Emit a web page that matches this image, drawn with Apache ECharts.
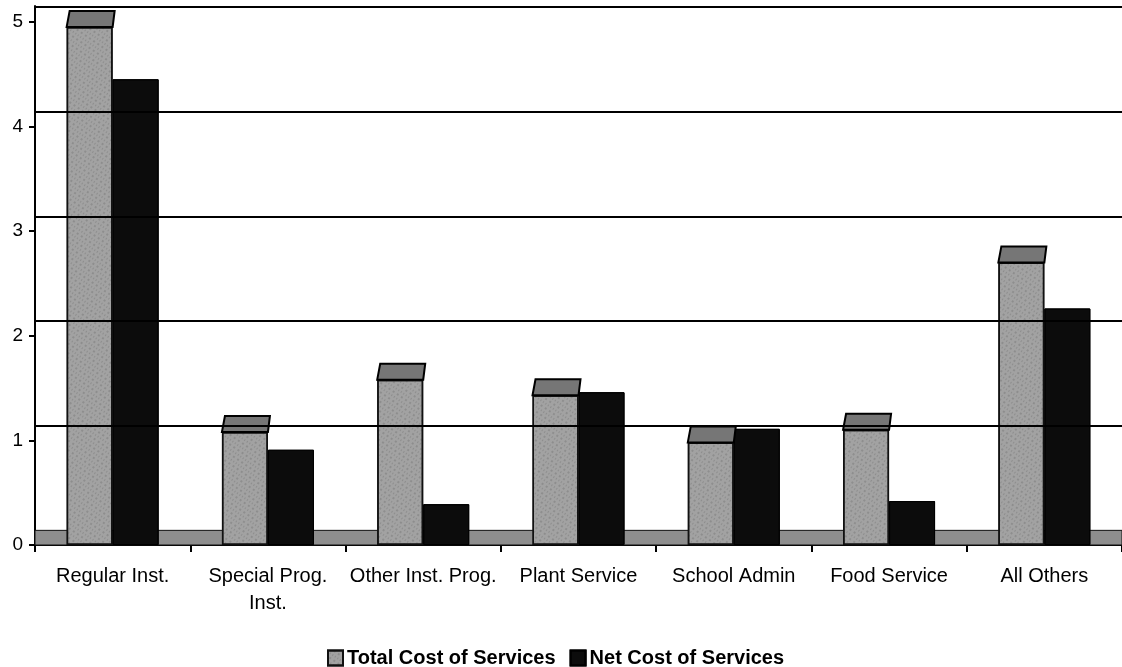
<!DOCTYPE html>
<html><head><meta charset="utf-8">
<script src="https://cdn.jsdelivr.net/npm/echarts@6/dist/echarts.min.js"></script>
<style>html,body{margin:0;padding:0;background:#fff}#c{width:1122px;height:667px}</style>
</head><body><div id="c"></div>
<script>
const categories = ['Regular Inst.', 'Special Prog.\nInst.', 'Other Inst. Prog.', 'Plant Service', 'School Admin', 'Food Service', 'All Others'];
const totalCost = [4.95, 1.08, 1.58, 1.43, 0.98, 1.10, 2.70];
const netCost = [4.45, 0.91, 0.39, 1.46, 1.11, 0.42, 2.26];
const yTicks = [0, 1, 2, 3, 4, 5];
const seriesNames = ['Total Cost of Services', 'Net Cost of Services'];

const DEPTH = 0.14;      // back-wall offset of the pseudo-3D grid
const BAR_W = 46;
const font = 'Liberation Sans, Arial, sans-serif';

const chart = echarts.init(document.getElementById('c'));
chart.setOption({
  backgroundColor: '#fff',
  animation: false,
  grid: { left: 35, right: 0, top: 6, bottom: 122 },
  legend: {
    data: seriesNames,
    top: 643, left: 322,
    itemWidth: 15, itemHeight: 15, itemGap: 14,
    icon: 'rect',
    textStyle: { fontFamily: font, fontSize: 20, fontWeight: 'bold', color: '#000', padding: [0, 0, 0, -1] }
  },
  xAxis: {
    type: 'category',
    data: categories,
    axisLine: { lineStyle: { color: '#000', width: 2 } },
    axisTick: { show: true, length: 7, lineStyle: { color: '#000', width: 2 } },
    axisLabel: { fontFamily: font, fontSize: 20, color: '#000', margin: 18, lineHeight: 27, interval: 0 }
  },
  yAxis: {
    type: 'value', min: 0, max: 5.15, interval: 1,
    axisLine: { show: true, lineStyle: { color: '#000', width: 2 } },
    axisTick: { show: true, length: 6, lineStyle: { color: '#000', width: 2 } },
    axisLabel: { fontFamily: font, fontSize: 19, color: '#000', margin: 12, showMaxLabel: false,
      formatter: v => yTicks.includes(v) ? String(v) : '' },
    splitLine: { show: false }
  },
  series: [
    {
      type: 'line', data: [], z: 1, silent: true, symbol: 'none',
      markLine: {
        silent: true, symbol: 'none', label: { show: false },
        lineStyle: { color: '#000', width: 2, type: 'solid' },
        data: yTicks.slice(1).map(t => ({ yAxis: Math.min(t + DEPTH, 5.15) }))
      },
      markArea: {
        silent: true,
        itemStyle: { color: '#8e8e8e', borderColor: '#111', borderWidth: 1 },
        data: [[{ yAxis: 0 }, { yAxis: DEPTH }]]
      }
    },
    {
      name: seriesNames[0], type: 'bar', data: totalCost, z: 3,
      barWidth: BAR_W, barGap: '0%',
      itemStyle: { color: '#a2a2a2', borderColor: '#111', borderWidth: 1.5,
        decal: { symbol: 'rect', symbolSize: 0.6, color: 'rgba(30,30,30,0.5)', dashArrayX: [[2, 3], [1, 2]], dashArrayY: [2, 2], rotation: 0.6 } }
    },
    {
      name: seriesNames[1], type: 'bar', data: netCost, z: 3,
      barWidth: BAR_W, barGap: '0%',
      itemStyle: { color: '#0c0c0c', borderColor: '#000', borderWidth: 1, decal: { symbol: 'none' } }
    },
    {
      type: 'custom', z: 4, silent: true, data: totalCost.map((v, i) => [i, v]),
      renderItem: function (params, api) {
        const p = api.coord([api.value(0), api.value(1)]);
        const x0 = p[0] - BAR_W, x1 = p[0], y = p[1], h = 16;
        return {
          type: 'polygon',
          shape: { points: [[x0, y], [x1, y], [x1 + 2, y - h], [x0 + 3, y - h]] },
          style: { fill: '#767676', stroke: '#000', lineWidth: 2 }
        };
      }
    }
  ],
  aria: { enabled: true, decal: { show: true } }
});
</script></body></html>
